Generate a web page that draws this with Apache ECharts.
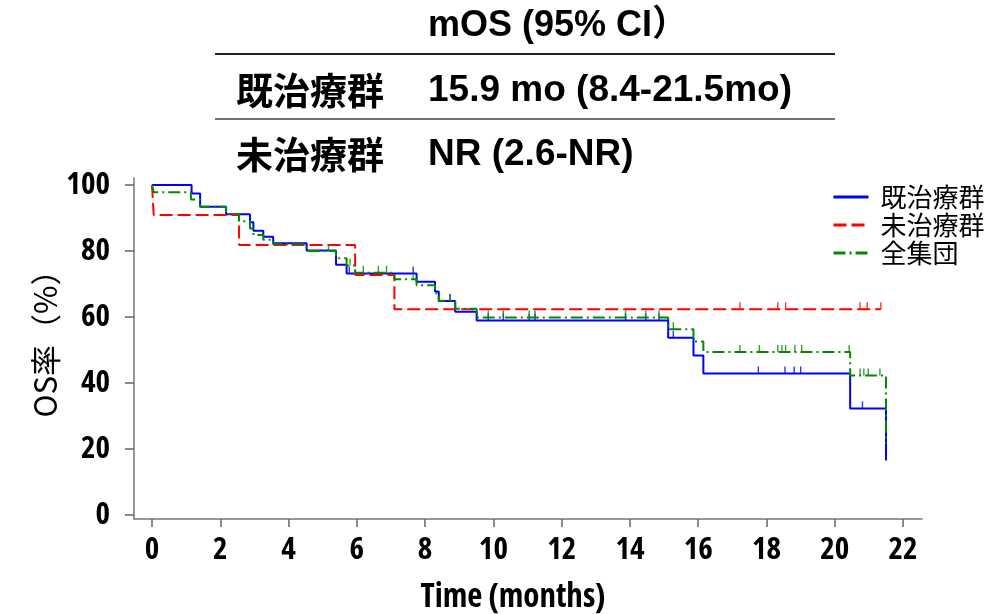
<!DOCTYPE html>
<html>
<head>
<meta charset="utf-8">
<script src="https://cdn.jsdelivr.net/npm/echarts@6/dist/echarts.min.js"></script>
<style>
  html, body { margin: 0; padding: 0; background: #fff; }
  #chart { width: 1002px; height: 614px; }
</style>
</head>
<body>
<div id="chart"></div>
<script>
// ---- Data ----
const xTicks = [0, 2, 4, 6, 8, 10, 12, 14, 16, 18, 20, 22];
const yTicks = [0, 20, 40, 60, 80, 100];
const seriesNames = ['既治療群', '未治療群', '全集団'];

// 既治療群 (previously treated): event times (months) and survival (%) after each step
const treatedT = [0, 1.16, 1.41, 2.17, 2.87, 2.97, 3.26, 3.55, 4.53, 5.39, 5.70, 7.75, 8.29, 8.40, 8.88, 9.51, 15.12, 15.86, 16.15, 20.45, 21.50];
const treatedS = [100, 97.4, 93.4, 91.1, 88.7, 86.1, 84.3, 82.3, 80.1, 75.8, 73.2, 70.7, 67.7, 64.8, 61.6, 58.9, 53.7, 48.3, 42.9, 32.3, 16.5];
const treatedCensor = [5.78, 7.65, 8.73, 9.85, 10.29, 11.05, 11.22, 13.87, 14.46, 14.85, 15.27, 17.76, 18.54, 18.81, 19.00, 20.81];

// 未治療群 (untreated)
const untreatedT = [0, 0.05, 2.55, 5.95, 7.10, 21.35];
const untreatedS = [100, 90.9, 81.8, 72.7, 62.3, 62.3];
const untreatedCensor = [17.22, 18.33, 18.56, 20.74, 20.95, 21.35];

// 全集団 (all patients)
const allT = [0, 0.05, 1.14, 1.41, 2.17, 2.55, 2.87, 2.97, 3.26, 3.55, 4.53, 5.39, 5.70, 5.95, 7.10, 7.75, 8.29, 8.40, 8.88, 9.51, 15.12, 15.86, 16.15, 20.45, 21.50];
const allS = [100, 97.8, 95.6, 93.4, 91.2, 89.0, 86.8, 84.8, 83.4, 82.0, 80.0, 77.8, 75.6, 73.4, 71.4, 69.6, 67.2, 64.9, 62.5, 59.8, 56.3, 52.6, 49.4, 42.3, 21.5];
const allCensor = [5.17, 5.80, 6.19, 6.63, 6.87, 7.65, 8.73, 9.85, 10.29, 11.05, 11.22, 13.87, 14.46, 14.85, 15.27, 17.22, 17.79, 18.33, 18.45, 18.56, 18.83, 19.03, 20.42, 20.74, 20.85, 20.98, 21.32];

// table text
const tableHeader = 'mOS (95% CI）';
const tableRows = [['既治療群', '15.9 mo (8.4-21.5mo)'], ['未治療群', 'NR (2.6-NR)']];

// ---- helpers ----
function steps(T, S) { return T.map((t, i) => [t, S[i]]); }
function levelAt(T, S, t) {
  let v = S[0];
  for (let i = 0; i < T.length; i++) { if (T[i] <= t) v = S[i]; }
  return v;
}
function censors(C, T, S) { return C.map(t => [t, levelAt(T, S, t)]); }

const colors = ['#0000ff', '#ff0000', '#008a00'];
const lineTypes = ['solid', [13, 5], [12, 4, 2, 4]];

const chart = echarts.init(document.getElementById('chart'), null, { renderer: 'canvas' });

const gridL = 134, gridR = 80, gridT = 178, gridB = 95;
const tickFont = '"Open Sans", "Liberation Sans", sans-serif';

const lineSeries = [
  [treatedT, treatedS, treatedCensor],
  [untreatedT, untreatedS, untreatedCensor],
  [allT, allS, allCensor]
];

const series = [];
lineSeries.forEach((d, i) => {
  series.push({
    name: seriesNames[i],
    type: 'line',
    step: 'end',
    data: steps(d[0], d[1]),
    showSymbol: false,
    symbol: 'none',
    lineStyle: { color: colors[i], width: 2, type: lineTypes[i] },
    itemStyle: { color: colors[i] },
    z: 2 + i,
    silent: true,
    animation: false
  });
});
lineSeries.forEach((d, i) => {
  series.push({
    name: seriesNames[i] + '_c',
    type: 'scatter',
    data: censors(d[2], d[0], d[1]),
    symbol: 'rect',
    symbolSize: [1.4, 7],
    symbolOffset: [0, -3.5],
    itemStyle: { color: colors[i] },
    z: 2 + i,
    silent: true,
    animation: false
  });
});

const graphic = [
  { type: 'text', left: 428, top: 8, style: { text: tableHeader, font: 'bold 36px "Liberation Sans", "Noto Sans CJK JP", sans-serif', fill: '#000' } },
  { type: 'line', shape: { x1: 215, y1: 54, x2: 835, y2: 54 }, style: { stroke: '#222', lineWidth: 2 } },
  { type: 'line', shape: { x1: 215, y1: 119, x2: 835, y2: 119 }, style: { stroke: '#444', lineWidth: 1.3 } }
];
tableRows.forEach((r, i) => {
  const y = 72 + i * 64;
  graphic.push({ type: 'text', left: 236, top: y, style: { text: r[0], font: 'bold 37px "Noto Sans CJK JP", sans-serif', fill: '#000' } });
  graphic.push({ type: 'text', left: 428, top: y, style: { text: r[1], font: 'bold 37px "Liberation Sans", "Noto Sans CJK JP", sans-serif', fill: '#000' } });
});
graphic.push({
  type: 'text', x: 513, y: 598,
  style: { text: 'Time (months)', font: 'bold condensed 33px ' + tickFont, fill: '#000', textAlign: 'center', textVerticalAlign: 'middle' }
});
graphic.push({
  type: 'text', x: 45, y: 336, rotation: Math.PI / 2,
  style: { text: 'OS率（%）', font: '31px "Noto Sans CJK JP", sans-serif', fill: '#000', textAlign: 'center', textVerticalAlign: 'middle' }
});

chart.setOption({
  animation: false,
  backgroundColor: '#fff',
  grid: { left: gridL, right: gridR, top: gridT, bottom: gridB, containLabel: false },
  legend: {
    data: seriesNames,
    orient: 'vertical',
    left: 827,
    top: 179,
    itemWidth: 35,
    itemHeight: 14,
    itemGap: 2,
    itemStyle: { opacity: 0 },
    lineStyle: { width: 3 },
    textStyle: { fontSize: 26, fontFamily: '"Noto Sans CJK JP", sans-serif', color: '#000', padding: [0, 0, 0, 7] },
    selectedMode: false
  },
  xAxis: {
    type: 'value',
    min: -0.527,
    max: 22.554,
    axisLine: { show: true, onZero: false, lineStyle: { color: '#777', width: 1.5 } },
    axisTick: { show: true, customValues: xTicks, length: 8, lineStyle: { color: '#666', width: 1.5 } },
    axisLabel: { customValues: xTicks, margin: 16, fontSize: 31, fontWeight: 'bold condensed', fontFamily: tickFont, color: '#000' },
    splitLine: { show: false }
  },
  yAxis: {
    type: 'value',
    min: -1.21,
    max: 102.1,
    axisLine: { show: true, onZero: false, lineStyle: { color: '#777', width: 1.5 } },
    axisTick: { show: true, customValues: yTicks, length: 9, lineStyle: { color: '#666', width: 1.5 } },
    axisLabel: { customValues: yTicks, margin: 24, fontSize: 31, fontWeight: 'bold condensed', fontFamily: tickFont, color: '#000' },
    splitLine: { show: false }
  },
  graphic: graphic,
  series: series
});
</script>
</body>
</html>
